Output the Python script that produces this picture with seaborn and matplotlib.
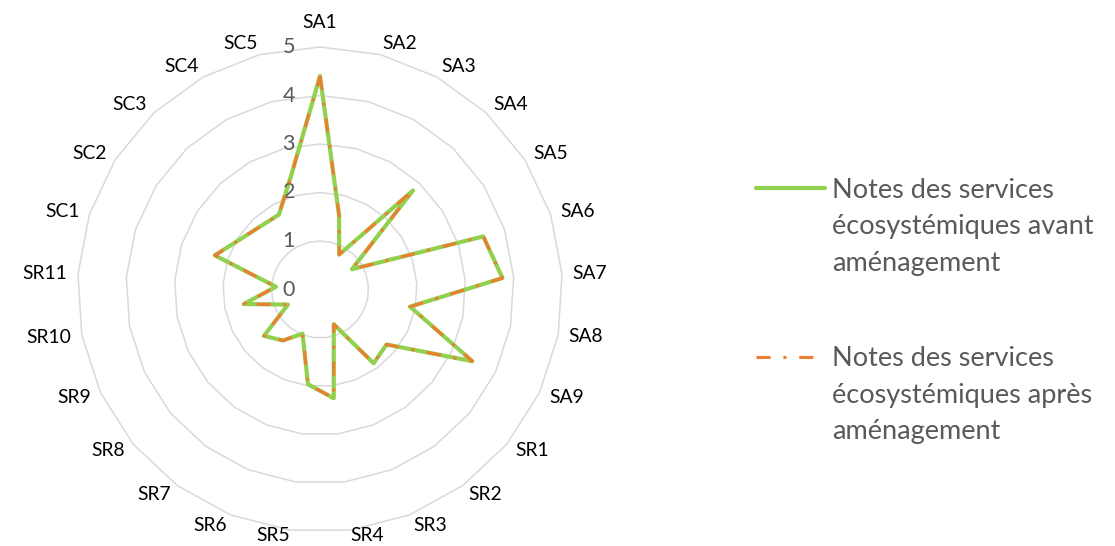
import numpy as np
import pandas as pd
import matplotlib.pyplot as plt
import seaborn as sns

categories = [
    "SA1", "SA2", "SA3", "SA4", "SA5", "SA6", "SA7", "SA8", "SA9",
    "SR1", "SR2", "SR3", "SR4", "SR5", "SR6", "SR7", "SR8", "SR9", "SR10", "SR11",
    "SC1", "SC2", "SC3", "SC4", "SC5",
]
notes_avant = [4.4, 1.58, 0.82, 2.8, 0.78, 3.54, 3.77, 1.89, 3.47,
               1.78, 1.88, 0.77, 2.26, 1.97, 0.98, 1.30, 1.50, 0.73, 1.60, 0.91,
               2.28, 1.94, 1.79, 1.76, 2.41]
notes_apres = [4.4, 1.58, 0.82, 2.8, 0.78, 3.54, 3.77, 1.89, 3.47,
               1.78, 1.88, 0.77, 2.26, 1.97, 0.98, 1.30, 1.50, 0.73, 1.60, 0.91,
               2.28, 1.94, 1.79, 1.76, 2.41]
radial_ticks = [0, 1, 2, 3, 4, 5]
legend_labels = [
    "Notes des services\nécosystémiques avant\naménagement",
    "Notes des services\nécosystémiques après\naménagement",
]

sns.set_theme(style="white")
plt.rcParams["font.family"] = ["Lato", "DejaVu Sans"]

green = "#92D050"
orange = "#ED7D31"
grid_color = "#D9D9D9"
text_gray = "#595959"

W, H = 1115, 546
cx, cy, radius = 320, 289.5, 242.5   # pixel centre and outer ring radius

n = len(categories)
angles = np.linspace(0, 2 * np.pi, n, endpoint=False)
closed = np.append(angles, 2 * np.pi)
df = pd.DataFrame({
    "theta": closed,
    "avant": notes_avant + notes_avant[:1],
    "apres": notes_apres + notes_apres[:1],
})

fig = plt.figure(figsize=(W / 100, H / 100), dpi=100)
ax = fig.add_axes([(cx - radius) / W, (H - cy - radius) / H, 2 * radius / W, 2 * radius / H],
                  projection="polar")
ax.set_theta_zero_location("N")
ax.set_theta_direction(-1)
ax.set_ylim(0, 5)
ax.grid(False)
ax.set_xticks([])
ax.set_yticks([])
ax.spines["polar"].set_visible(False)
ax.set_facecolor("none")

# polygon rings like the spreadsheet radar
for k in radial_ticks[1:]:
    ax.plot(closed, [k] * len(closed), color=grid_color, lw=1.1, zorder=0, clip_on=False)

sns.lineplot(data=df, x="theta", y="avant", ax=ax, sort=False, color=green, lw=3.0,
             estimator=None, zorder=3)
line_avant = ax.get_lines()[-1]
sns.lineplot(data=df, x="theta", y="apres", ax=ax, sort=False, color=orange, lw=2.2,
             estimator=None, zorder=4)
line_apres = ax.get_lines()[-1]
line_apres.set_linestyle((0, (4.6, 4.2, 1.0, 4.2)))
for ln in (line_avant, line_apres):
    ln.set_clip_on(False)
    ln.set_solid_joinstyle("round")
    ln.set_dash_joinstyle("round")
ax.set_xlabel("")
ax.set_ylabel("")

# category labels: placed just outside the outer ring, nudged away from the vertical axis
renderer = fig.canvas.get_renderer()
unit_px = radius / 5
for ang, cat in zip(angles, categories):
    t = ax.text(ang, 5.5, cat, ha="center", va="center", fontsize=13.9, color="black")
    bb = t.get_window_extent(renderer)
    s, c = np.sin(ang), np.cos(ang)
    r_px = 255 + (bb.width / 2 - 2) * abs(s)
    if abs(s) < 0.05 and c > 0:
        r_px += 12  # top label sits above the value-axis numbers
    a = ang + np.deg2rad(3.6) * c * np.sign(s)
    if np.cos(a) < 0:
        r_px = min(r_px, (H - 2 - bb.height / 2 - cy) / -np.cos(a))
    t.set_position((a, r_px / unit_px))

for k in radial_ticks:
    ax.annotate(str(k), xy=(0, k), xytext=(-18, 0), textcoords="offset points",
                ha="right", va="center", fontsize=15.5, color=text_gray)

leg = fig.legend(handles=[line_avant, line_apres], labels=legend_labels,
                 loc="upper left", bbox_to_anchor=(756 / W, 1 - 178 / H),
                 frameon=False, borderpad=0, borderaxespad=0, handlelength=2.55,
                 handleheight=0.92, handletextpad=0.25, labelspacing=2.6, fontsize=19.5)
for t in leg.get_texts():
    t.set_color(text_gray)
    t.set_linespacing(1.57)
# put each handle level with the first text line
for col in leg._legend_handle_box.get_children():
    for row in col.get_children():
        row.align = "top"

fig.savefig("out.png", dpi=100)
plt.close(fig)
